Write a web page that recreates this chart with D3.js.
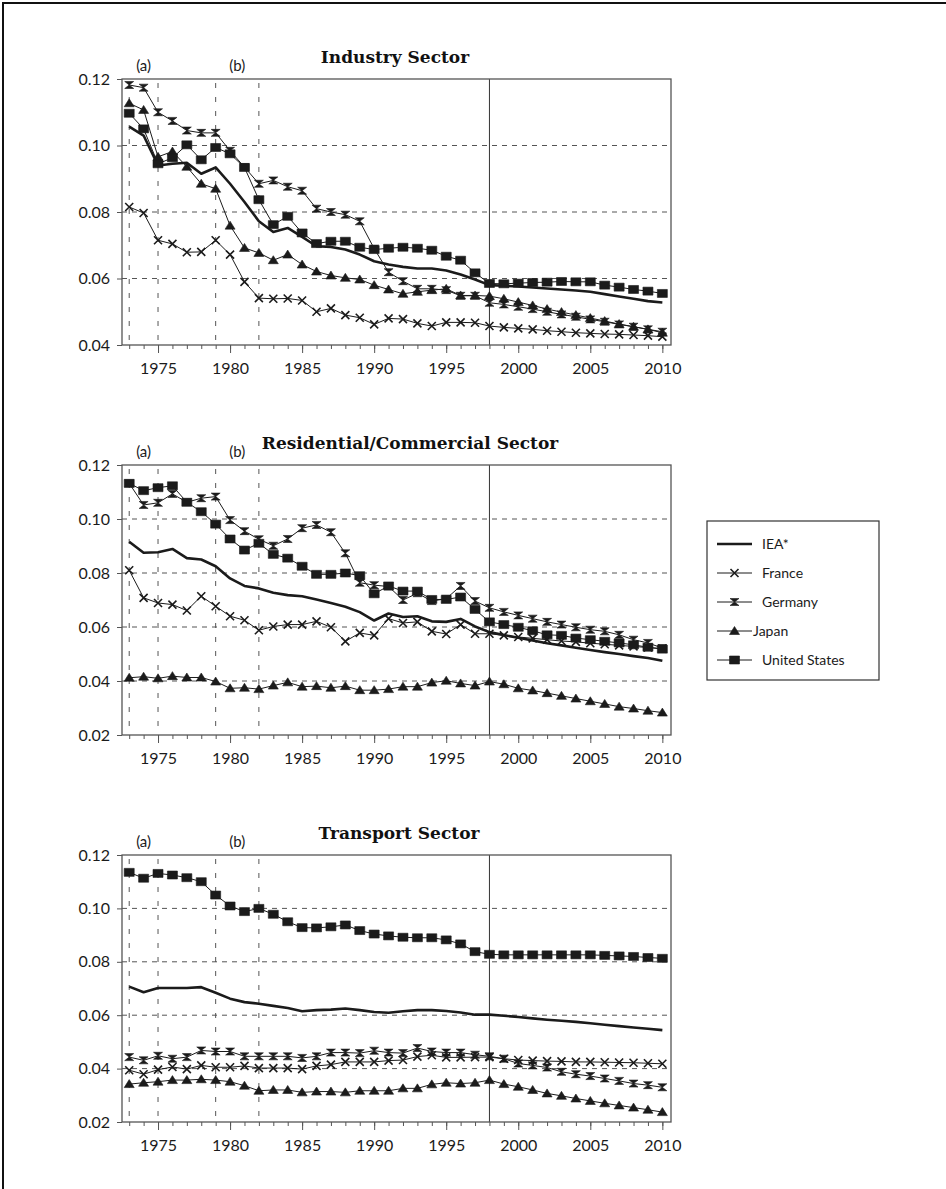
<!DOCTYPE html>
<html>
<head>
<meta charset="utf-8">
<script src="https://cdn.jsdelivr.net/npm/d3@7"></script>
<style>
  body { margin: 0; background: #fff; overflow: hidden; }
  svg { display: block; }
</style>
</head>
<body>
<div id="container"></div>
<script>
// years on the x axis
const years = [1973, 1974, 1975, 1976, 1977, 1978, 1979, 1980, 1981, 1982, 1983, 1984, 1985, 1986, 1987, 1988, 1989,
  1990, 1991, 1992, 1993, 1994, 1995, 1996, 1997, 1998, 1999, 2000, 2001, 2002, 2003, 2004, 2005, 2006, 2007, 2008, 2009, 2010];
const xTickYears = [1975, 1980, 1985, 1990, 1995, 2000, 2005, 2010];
const shockYears = [1973, 1975, 1979, 1982];   // dashed verticals
const shockLabels = ["(a)", "(b)"];
const shockLabelYears = [1974, 1980.5];
const splitYear = 1998;                        // solid vertical
const seriesNames = ["IEA*", "France", "Germany", "Japan", "United States"];

// Industry Sector
const indIEA = [0.1057, 0.1030, 0.0940, 0.0945, 0.0948, 0.0915, 0.0934, 0.0885, 0.0830, 0.0772, 0.0740, 0.0752, 0.0725, 0.0697, 0.0695, 0.0687, 0.0672, 0.0652, 0.0642, 0.0635, 0.0630, 0.0630, 0.0624, 0.0612, 0.0597, 0.0580, 0.0578, 0.0576, 0.0573, 0.0570, 0.0567, 0.0564, 0.0560, 0.0553, 0.0546, 0.0539, 0.0532, 0.0528];
const indFrance = [0.0815, 0.0797, 0.0715, 0.0704, 0.0679, 0.0680, 0.0715, 0.0672, 0.0590, 0.0541, 0.0539, 0.0540, 0.0534, 0.0500, 0.0510, 0.0490, 0.0482, 0.0462, 0.0480, 0.0478, 0.0465, 0.0457, 0.0468, 0.0468, 0.0467, 0.0457, 0.0453, 0.0450, 0.0447, 0.0443, 0.0440, 0.0437, 0.0435, 0.0433, 0.0432, 0.0430, 0.0428, 0.0425];
const indGermany = [0.1182, 0.1174, 0.1100, 0.1074, 0.1045, 0.1038, 0.1038, 0.0984, 0.0935, 0.0885, 0.0895, 0.0876, 0.0864, 0.0810, 0.0800, 0.0792, 0.0772, 0.0690, 0.0619, 0.0592, 0.0569, 0.0569, 0.0565, 0.0548, 0.0548, 0.0527, 0.0522, 0.0515, 0.0508, 0.0500, 0.0492, 0.0485, 0.0477, 0.0470, 0.0462, 0.0455, 0.0447, 0.0440];
const indJapan = [0.1127, 0.1107, 0.0966, 0.0982, 0.0936, 0.0885, 0.0870, 0.0759, 0.0692, 0.0677, 0.0655, 0.0672, 0.0642, 0.0621, 0.0609, 0.0602, 0.0597, 0.0580, 0.0567, 0.0554, 0.0560, 0.0565, 0.0569, 0.0549, 0.0549, 0.0547, 0.0539, 0.0529, 0.0519, 0.0508, 0.0499, 0.0490, 0.0481, 0.0472, 0.0463, 0.0455, 0.0447, 0.0437];
const indUS = [0.1097, 0.1050, 0.0945, 0.0963, 0.1002, 0.0957, 0.0994, 0.0975, 0.0934, 0.0837, 0.0762, 0.0787, 0.0737, 0.0705, 0.0712, 0.0712, 0.0694, 0.0687, 0.0691, 0.0694, 0.0691, 0.0685, 0.0667, 0.0655, 0.0617, 0.0585, 0.0584, 0.0586, 0.0588, 0.0589, 0.0591, 0.0590, 0.0590, 0.0580, 0.0574, 0.0567, 0.0562, 0.0555];

// Residential/Commercial Sector
const resIEA = [0.0916, 0.0875, 0.0877, 0.0889, 0.0855, 0.0850, 0.0825, 0.0780, 0.0752, 0.0743, 0.0727, 0.0718, 0.0714, 0.0702, 0.0689, 0.0675, 0.0655, 0.0624, 0.0650, 0.0637, 0.0640, 0.0621, 0.0619, 0.0630, 0.0602, 0.0581, 0.0570, 0.0560, 0.0550, 0.0540, 0.0532, 0.0523, 0.0515, 0.0507, 0.0500, 0.0492, 0.0485, 0.0475];
const resFrance = [0.0810, 0.0708, 0.0689, 0.0683, 0.0661, 0.0714, 0.0677, 0.0640, 0.0625, 0.0588, 0.0602, 0.0609, 0.0609, 0.0621, 0.0599, 0.0547, 0.0578, 0.0569, 0.0631, 0.0615, 0.0619, 0.0584, 0.0574, 0.0609, 0.0575, 0.0575, 0.0569, 0.0563, 0.0558, 0.0553, 0.0548, 0.0545, 0.0540, 0.0536, 0.0532, 0.0528, 0.0524, 0.0520];
const resGermany = [0.1132, 0.1052, 0.1060, 0.1093, 0.1062, 0.1077, 0.1083, 0.0996, 0.0955, 0.0925, 0.0901, 0.0926, 0.0966, 0.0978, 0.0951, 0.0873, 0.0764, 0.0755, 0.0750, 0.0700, 0.0725, 0.0696, 0.0705, 0.0752, 0.0696, 0.0671, 0.0656, 0.0643, 0.0631, 0.0619, 0.0609, 0.0599, 0.0590, 0.0584, 0.0571, 0.0553, 0.0541, 0.0522];
const resJapan = [0.0412, 0.0416, 0.0410, 0.0418, 0.0413, 0.0413, 0.0398, 0.0373, 0.0375, 0.0370, 0.0383, 0.0395, 0.0379, 0.0381, 0.0375, 0.0381, 0.0366, 0.0366, 0.0370, 0.0379, 0.0379, 0.0394, 0.0401, 0.0391, 0.0383, 0.0398, 0.0388, 0.0373, 0.0365, 0.0355, 0.0345, 0.0335, 0.0325, 0.0315, 0.0305, 0.0298, 0.0290, 0.0283];
const resUS = [0.1132, 0.1105, 0.1116, 0.1123, 0.1062, 0.1027, 0.0981, 0.0926, 0.0885, 0.0910, 0.0869, 0.0855, 0.0825, 0.0795, 0.0795, 0.0800, 0.0790, 0.0723, 0.0752, 0.0733, 0.0733, 0.0702, 0.0702, 0.0711, 0.0665, 0.0619, 0.0609, 0.0599, 0.0586, 0.0571, 0.0569, 0.0559, 0.0553, 0.0547, 0.0541, 0.0534, 0.0525, 0.0518];

// Transport Sector
const trIEA = [0.0707, 0.0686, 0.0702, 0.0702, 0.0702, 0.0705, 0.0684, 0.0662, 0.0649, 0.0643, 0.0635, 0.0627, 0.0615, 0.0619, 0.0621, 0.0625, 0.0619, 0.0612, 0.0609, 0.0615, 0.0619, 0.0619, 0.0616, 0.0610, 0.0602, 0.0602, 0.0598, 0.0593, 0.0588, 0.0583, 0.0579, 0.0575, 0.0570, 0.0564, 0.0559, 0.0554, 0.0549, 0.0544];
const trFrance = [0.0394, 0.0379, 0.0396, 0.0406, 0.0398, 0.0412, 0.0405, 0.0405, 0.0410, 0.0402, 0.0402, 0.0402, 0.0398, 0.0410, 0.0415, 0.0425, 0.0425, 0.0425, 0.0430, 0.0432, 0.0445, 0.0450, 0.0442, 0.0442, 0.0443, 0.0443, 0.0437, 0.0432, 0.0430, 0.0428, 0.0427, 0.0425, 0.0425, 0.0424, 0.0423, 0.0422, 0.0420, 0.0418];
const trGermany = [0.0443, 0.0431, 0.0448, 0.0437, 0.0443, 0.0468, 0.0464, 0.0464, 0.0446, 0.0446, 0.0446, 0.0446, 0.0440, 0.0446, 0.0460, 0.0460, 0.0458, 0.0467, 0.0460, 0.0458, 0.0477, 0.0464, 0.0460, 0.0460, 0.0452, 0.0446, 0.0437, 0.0419, 0.0412, 0.0404, 0.0388, 0.0379, 0.0372, 0.0363, 0.0354, 0.0344, 0.0338, 0.0330];
const trJapan = [0.0342, 0.0347, 0.0351, 0.0357, 0.0357, 0.0360, 0.0357, 0.0351, 0.0336, 0.0317, 0.0320, 0.0320, 0.0311, 0.0314, 0.0314, 0.0311, 0.0317, 0.0317, 0.0317, 0.0326, 0.0326, 0.0341, 0.0347, 0.0344, 0.0347, 0.0357, 0.0342, 0.0332, 0.0320, 0.0307, 0.0298, 0.0288, 0.0279, 0.0270, 0.0262, 0.0254, 0.0246, 0.0237];
const trUS = [0.1135, 0.1113, 0.1131, 0.1125, 0.1115, 0.1100, 0.1050, 0.1009, 0.0988, 0.1000, 0.0978, 0.0950, 0.0928, 0.0927, 0.0931, 0.0938, 0.0917, 0.0904, 0.0897, 0.0892, 0.0890, 0.0890, 0.0882, 0.0867, 0.0838, 0.0828, 0.0826, 0.0826, 0.0826, 0.0826, 0.0826, 0.0826, 0.0826, 0.0824, 0.0822, 0.0820, 0.0816, 0.0813];

const indTicks = [0.04, 0.06, 0.08, 0.10, 0.12];
const otherTicks = [0.02, 0.04, 0.06, 0.08, 0.10, 0.12];

// panel layout (positions only)
const panels = [
  {title: "Industry Sector", titleX: 395, top: 79, bottom: 345, ticks: indTicks,
   series: [indIEA, indFrance, indGermany, indJapan, indUS]},
  {title: "Residential/Commercial Sector", titleX: 410, top: 465, bottom: 735, ticks: otherTicks,
   series: [resIEA, resFrance, resGermany, resJapan, resUS]},
  {title: "Transport Sector", titleX: 399, top: 855, bottom: 1122, ticks: otherTicks,
   series: [trIEA, trFrance, trGermany, trJapan, trUS]}
];

const plotLeft = 122, plotRight = 671;
const ink = "#1b1b1b";
const axisGray = "#555";
const tickFont = "Lato, 'DejaVu Sans', sans-serif";

const svg = d3.select("#container").append("svg")
  .attr("width", 946)
  .attr("height", 1189);

// outer frame of the figure (only top and left edges fall inside the page)
svg.append("path")
  .attr("d", "M3,1189V3H946")
  .attr("fill", "none")
  .attr("stroke", "#111")
  .attr("stroke-width", 2);

const x = d3.scaleLinear()
  .domain([1972.5, 2010.6])
  .range([plotLeft, plotRight]);

// marker shapes
const markerPath = {
  1: "M-4,-4L4,4M-4,4L4,-4",                    // France: x
  2: "M-4.5,-3.5H4.5L-4.5,3.5H4.5Z",            // Germany: hourglass
  3: "M0,-4.5L5,3.5H-5Z",                       // Japan: triangle
  4: "M-5,-4H5V4H-5Z"                           // United States: square
};

panels.forEach(p => {
  const y = d3.scaleLinear()
    .domain([p.ticks[0], 0.12])
    .range([p.bottom, p.top]);

  const g = svg.append("g");

  // horizontal dashed grid
  g.append("g")
    .selectAll("line")
    .data(p.ticks.slice(1, -1))
    .join("line")
    .attr("x1", plotLeft).attr("x2", plotRight)
    .attr("y1", d => y(d)).attr("y2", d => y(d))
    .attr("stroke", axisGray)
    .attr("stroke-width", 1)
    .attr("stroke-dasharray", "5,5");

  // dashed verticals (a) (b)
  g.append("g")
    .selectAll("line")
    .data(shockYears)
    .join("line")
    .attr("x1", d => x(d)).attr("x2", d => x(d))
    .attr("y1", p.top + 4).attr("y2", p.bottom)
    .attr("stroke", axisGray)
    .attr("stroke-width", 1)
    .attr("stroke-dasharray", "5,9");

  g.append("g")
    .selectAll("text")
    .data(shockLabels)
    .join("text")
    .attr("x", (d, i) => x(shockLabelYears[i]))
    .attr("y", p.top - 8)
    .attr("text-anchor", "middle")
    .style("font-family", tickFont)
    .style("font-size", "15px")
    .style("fill", ink)
    .text(d => d);

  // solid split line
  g.append("line")
    .attr("x1", x(splitYear)).attr("x2", x(splitYear))
    .attr("y1", p.top).attr("y2", p.bottom)
    .attr("stroke", "#333")
    .attr("stroke-width", 1);

  // frame
  g.append("rect")
    .attr("x", plotLeft).attr("y", p.top)
    .attr("width", plotRight - plotLeft)
    .attr("height", p.bottom - p.top)
    .attr("fill", "none")
    .attr("stroke", axisGray)
    .attr("stroke-width", 1.3);

  // y axis
  g.append("g")
    .attr("transform", `translate(${plotLeft},0)`)
    .call(d3.axisLeft(y).tickValues(p.ticks).tickSize(5).tickPadding(7).tickFormat(d3.format(".2f")))
    .call(a => a.select(".domain").remove())
    .call(a => a.selectAll("line").attr("stroke", axisGray))
    .call(a => a.selectAll("text").style("font-family", tickFont).style("font-size", "16px").style("fill", ink));

  // x axis, minor then major ticks
  g.append("g")
    .attr("transform", `translate(0,${p.bottom})`)
    .call(d3.axisBottom(x).tickValues(years).tickSize(4).tickFormat(""))
    .call(a => a.select(".domain").remove())
    .call(a => a.selectAll("line").attr("stroke", axisGray));

  g.append("g")
    .attr("transform", `translate(0,${p.bottom})`)
    .call(d3.axisBottom(x).tickValues(xTickYears).tickSize(8).tickPadding(10).tickFormat(d3.format("d")))
    .call(a => a.select(".domain").remove())
    .call(a => a.selectAll("line").attr("stroke", axisGray))
    .call(a => a.selectAll("text").style("font-family", tickFont).style("font-size", "16px").style("fill", ink));

  // title
  g.append("text")
    .attr("x", p.titleX)
    .attr("y", p.top - 16)
    .attr("text-anchor", "middle")
    .style("font-family", "'DejaVu Serif', serif")
    .style("font-weight", "bold")
    .style("font-size", "17px")
    .style("fill", "#111")
    .text(p.title);

  // series
  const line = d3.line()
    .x((d, i) => x(years[i]))
    .y(d => y(d));

  p.series.forEach((vals, si) => {
    g.append("path")
      .datum(vals)
      .attr("fill", "none")
      .attr("stroke", ink)
      .attr("stroke-width", si === 0 ? 2.6 : 1)
      .attr("stroke-linejoin", "round")
      .attr("d", line);

    if (si === 0) return;
    g.append("g")
      .selectAll("path")
      .data(vals)
      .join("path")
      .attr("transform", (d, i) => `translate(${x(years[i])},${y(d)})`)
      .attr("d", markerPath[si])
      .attr("fill", si === 1 ? "none" : ink)
      .attr("stroke", ink)
      .attr("stroke-width", si === 1 ? 1.6 : 0.6);
  });
});

// legend
const legend = svg.append("g").attr("transform", "translate(707,521)");
legend.append("rect")
  .attr("width", 172).attr("height", 159)
  .attr("fill", "#fff")
  .attr("stroke", "#333")
  .attr("stroke-width", 1.2);

const legendRows = legend.selectAll("g.row")
  .data(seriesNames)
  .join("g")
  .attr("class", "row")
  .attr("transform", (d, i) => `translate(0,${23 + i * 29})`);

legendRows.append("line")
  .attr("x1", 10).attr("x2", 45)
  .attr("stroke", ink)
  .attr("stroke-width", (d, i) => i === 0 ? 2.6 : 1);

legendRows.filter((d, i) => i > 0)
  .append("path")
  .attr("transform", "translate(27.5,0)")
  .attr("d", (d, i) => markerPath[i + 1])
  .attr("fill", (d, i) => i === 0 ? "none" : ink)
  .attr("stroke", ink)
  .attr("stroke-width", (d, i) => i === 0 ? 1.6 : 0.6);

legendRows.append("text")
  .attr("x", (d, i) => i === 3 ? 46 : 55)
  .attr("dy", "0.35em")
  .style("font-family", tickFont)
  .style("font-size", "14px")
  .style("fill", ink)
  .text(d => d);
</script>
</body>
</html>
